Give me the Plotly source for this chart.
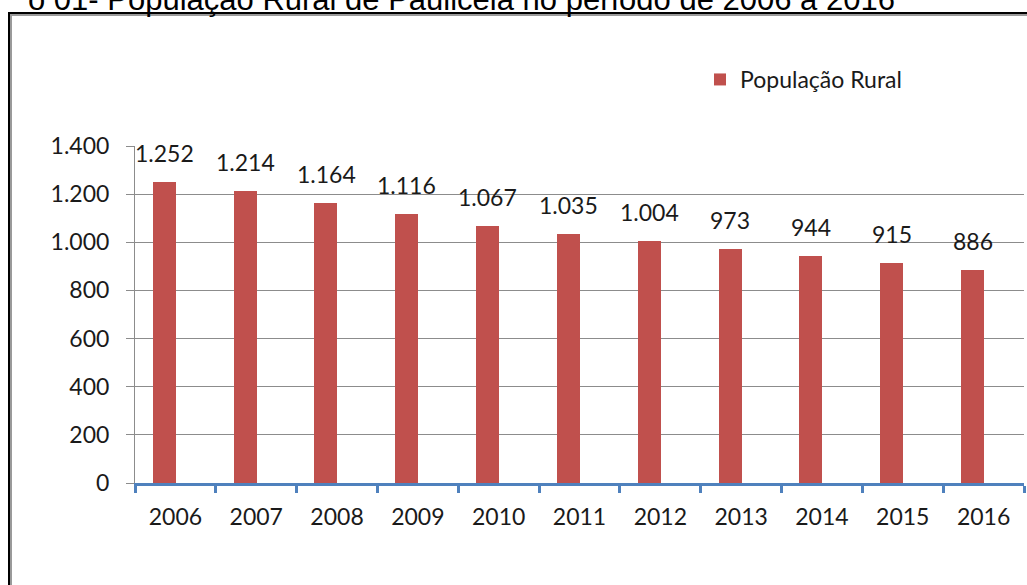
import plotly.graph_objects as go

years = ["2006", "2007", "2008", "2009", "2010", "2011", "2012", "2013", "2014", "2015", "2016"]
populacao_rural = [1252, 1214, 1164, 1116, 1067, 1035, 1004, 973, 944, 915, 886]
series_name = "População Rural"
title_text = "o 01- População Rural de Paulicéia no período de 2006 a 2016"

W, H = 1027, 585
L, R, T, B = 135, 3, 146, 102
PW, PH = W - L - R, H - T - B


def px_x(px):
    return (px - L) / PW


def px_y(py):
    return (H - B - py) / PH


def fmt(v):
    return f"{v:,}".replace(",", ".")


FONT = "Lato"
TXT = "#1a1a1a"
GRID = "#8c8c8c"
BLUE = "#4F81BD"
RED = "#C0504D"

fig = go.Figure()
fig.add_trace(go.Bar(
    x=years, y=populacao_rural, name=series_name,
    marker=dict(color=RED, line=dict(width=0)),
    width=0.285, offset=-0.28,
    showlegend=True,
))

annotations = []
for i, v in enumerate(populacao_rural):
    annotations.append(dict(
        x=i, y=v, xref="x", yref="y", text=fmt(v), showarrow=False,
        xanchor="center", yanchor="bottom", xshift=-11, yshift=13,
        font=dict(family=FONT, size=23, color=TXT),
    ))

annotations.append(dict(
    x=px_x(897), y=px_y(0), xref="paper", yref="paper", text=title_text,
    showarrow=False, xanchor="right", yanchor="middle",
    font=dict(family="Liberation Sans, Arial", size=31, color="#000000"),
))

shapes = [
    dict(type="line", xref="paper", yref="paper",
         x0=px_x(9), x1=px_x(9), y0=px_y(13), y1=px_y(640),
         line=dict(color="#000000", width=2), layer="above"),
    dict(type="line", xref="paper", yref="paper",
         x0=px_x(8), x1=px_x(1027), y0=px_y(13), y1=px_y(13),
         line=dict(color="#000000", width=2), layer="above"),
    dict(type="line", xref="paper", yref="paper",
         x0=px_x(11), x1=px_x(11), y0=px_y(15), y1=px_y(640),
         line=dict(color="#9a9a9a", width=2), layer="above"),
    dict(type="line", xref="paper", yref="paper",
         x0=px_x(10), x1=px_x(1027), y0=px_y(15), y1=px_y(15),
         line=dict(color="#9a9a9a", width=2), layer="above"),
]

fig.update_layout(
    width=W, height=H,
    margin=dict(l=L, r=R, t=T, b=B),
    paper_bgcolor="white", plot_bgcolor="white",
    separators=",.",
    font=dict(family=FONT, size=23, color=TXT),
    bargap=0,
    annotations=annotations,
    shapes=shapes,
    legend=dict(
        x=px_x(700), y=px_y(58), xanchor="left", yanchor="top",
        font=dict(family=FONT, size=23, color=TXT),
        itemwidth=30, bgcolor="rgba(0,0,0,0)",
    ),
    xaxis=dict(
        type="category", showgrid=False,
        showline=True, linecolor=BLUE, linewidth=2.5,
        ticks="outside", tickson="boundaries", ticklen=7, tickwidth=2.5, tickcolor=BLUE,
        tickfont=dict(family=FONT, size=23, color=TXT),
        ticklabelstandoff=12,
        range=[-0.5, 10.5],
    ),
    yaxis=dict(
        range=[0, 1400], tickvals=[0, 200, 400, 600, 800, 1000, 1200, 1400],
        tickformat=",.0f",
        showgrid=True, gridcolor=GRID, gridwidth=1,
        showline=True, linecolor=GRID, linewidth=1,
        ticks="outside", ticklen=8, tickcolor=GRID, tickwidth=1,
        tickfont=dict(family=FONT, size=23, color=TXT),
        ticklabelstandoff=12,
        zeroline=False,
    ),
)

fig.write_html("out.html", config={"displayModeBar": False})
